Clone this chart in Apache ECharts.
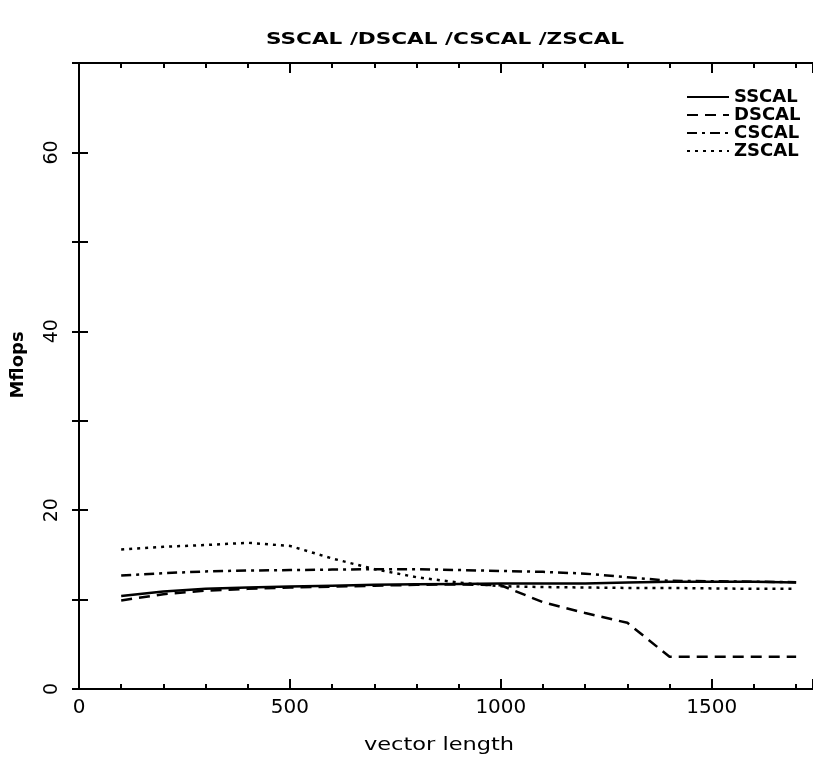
<!DOCTYPE html>
<html>
<head>
<meta charset="utf-8">
<script src="https://cdn.jsdelivr.net/npm/echarts@6/dist/echarts.min.js"></script>
<style>
html,body{margin:0;padding:0;background:#fff;}
#chart{width:813px;height:760px;}
</style>
</head>
<body>
<div id="chart"></div>
<script>
var titleText = 'SSCAL /DSCAL /CSCAL /ZSCAL';
var xName = 'vector length';
var yName = 'Mflops';
var vectorLengths = [100,200,300,400,500,600,700,800,900,1000,1100,1200,1300,1400,1500,1600,1700];
var seriesNames = ['SSCAL','DSCAL','CSCAL','ZSCAL'];
var sscal = [10.4,10.9,11.2,11.35,11.45,11.55,11.65,11.7,11.75,11.8,11.8,11.8,11.9,12.0,12.0,12.0,11.9];
var dscal = [9.9,10.6,11.0,11.2,11.35,11.45,11.55,11.65,11.7,11.6,9.7,8.5,7.4,3.6,3.6,3.6,3.6];
var cscal = [12.7,12.95,13.15,13.25,13.3,13.35,13.4,13.4,13.3,13.2,13.1,12.9,12.5,12.1,12.05,12.0,11.95];
var zscal = [15.6,15.9,16.1,16.35,16.0,14.6,13.4,12.5,11.9,11.5,11.4,11.35,11.3,11.3,11.25,11.2,11.2];
var xTicksLabelled = [0,500,1000,1500];
var yTicksLabelled = [0,20,40,60];

function pairs(vals){ return vectorLengths.map(function(x,i){ return [x, vals[i]]; }); }

var FONT = 'DejaVu Sans';
var black = '#000';
var lineStyles = [
  {type:'solid', width:2.5},
  {type:[11,7], width:2.5},
  {type:[10,5,3,5], width:2.5},
  {type:[3,5], width:2.5}
];
var allVals = [sscal, dscal, cscal, zscal];
var XMAX = 1740;

var chart = echarts.init(document.getElementById('chart'));
var option = {
  backgroundColor:'#fff',
  animation:false,
  graphic:[
    {type:'text', x:445, y:40, scaleX:1.44, originX:0, originY:0,
     style:{text:titleText, fontFamily:FONT, fontSize:15, fontWeight:'bold', fill:black, align:'center', verticalAlign:'middle'}},
    {type:'text', x:439, y:745, scaleX:1.25, originX:0, originY:0,
     style:{text:xName, fontFamily:FONT, fontSize:18, fill:black, align:'center', verticalAlign:'middle'}},
    {type:'text', x:18, y:365, rotation:Math.PI/2,
     style:{text:yName, fontFamily:FONT, fontSize:18, fontWeight:'bold', fill:black, align:'center', verticalAlign:'middle'}}
  ],
  legend:{
    orient:'vertical', left:686, top:88, padding:0,
    itemWidth:42, itemHeight:10, itemGap:0,
    itemStyle:{color:'rgba(0,0,0,0)', borderColor:'rgba(0,0,0,0)', borderWidth:0},
    textStyle:{fontFamily:FONT, fontSize:18, fontWeight:'bold', color:black, lineHeight:17.7},
    data:seriesNames
  },
  grid:{left:79, top:63, right:0, height:626, containLabel:false},
  xAxis:[
    {type:'value', position:'bottom', min:0, max:XMAX, interval:100,
     axisLine:{show:true, lineStyle:{color:black, width:2}},
     axisTick:{show:true, inside:true, length:5, lineStyle:{color:black, width:2}},
     axisLabel:{show:true, margin:9, fontFamily:FONT, fontSize:20, color:black, showMaxLabel:false,
       formatter:function(v){ return xTicksLabelled.indexOf(v) >= 0 ? String(v) : ''; }},
     splitLine:{show:false}},
    {type:'value', position:'bottom', min:0, max:XMAX, interval:500,
     axisLine:{show:false}, axisLabel:{show:false}, splitLine:{show:false},
     axisTick:{show:true, inside:true, length:10, lineStyle:{color:black, width:2}}},
    {type:'value', position:'top', min:0, max:XMAX, interval:100,
     axisLine:{show:true, lineStyle:{color:black, width:2}}, axisLabel:{show:false}, splitLine:{show:false},
     axisTick:{show:true, inside:true, length:5, lineStyle:{color:black, width:2}}},
    {type:'value', position:'top', min:0, max:XMAX, interval:500,
     axisLine:{show:false}, axisLabel:{show:false}, splitLine:{show:false},
     axisTick:{show:true, inside:true, length:10, lineStyle:{color:black, width:2}}}
  ],
  yAxis:[
    {type:'value', position:'left', min:0, max:70, interval:10,
     axisLine:{show:true, lineStyle:{color:black, width:2}},
     axisTick:{show:true, inside:true, length:9, lineStyle:{color:black, width:2}},
     axisLabel:{show:true, rotate:90, margin:17, fontFamily:FONT, fontSize:19, color:black,
       formatter:function(v){ return yTicksLabelled.indexOf(v) >= 0 ? String(v) : ''; }},
     splitLine:{show:false}},
    {type:'value', position:'right', min:0, max:70, interval:10,
     axisLine:{show:false}, axisLabel:{show:false}, splitLine:{show:false},
     axisTick:{show:true, inside:true, length:7, lineStyle:{color:black, width:2}}}
  ],
  series: seriesNames.map(function(n,i){
    return {
      name:n, type:'line', xAxisIndex:0, yAxisIndex:0,
      symbol:'none', showSymbol:false, smooth:false,
      lineStyle:Object.assign({color:black}, lineStyles[i]),
      itemStyle:{color:black},
      data:pairs(allVals[i])
    };
  })
};
chart.setOption(option);
</script>
</body>
</html>
